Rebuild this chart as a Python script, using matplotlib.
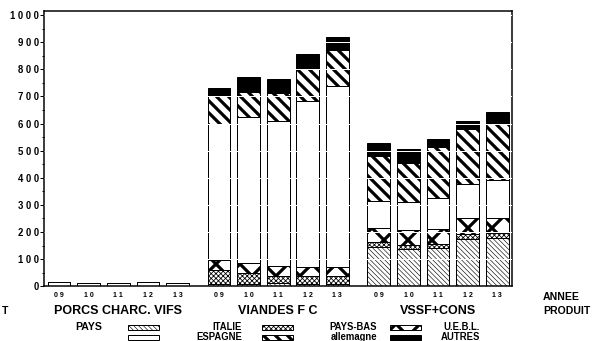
import matplotlib
matplotlib.use('Agg')
import matplotlib.pyplot as plt
from matplotlib.patches import Rectangle
import numpy as np

plt.rcParams['font.family'] = ['Liberation Sans', 'DejaVu Sans']
plt.rcParams['font.weight'] = 'bold'

years = ['09', '10', '11', '12', '13']
groups = ['PORCS CHARC. VIFS', 'VIANDES F C', 'VSSF+CONS']
countries = ['ITALIE', 'PAYS-BAS', 'U.E.B.L.', 'ESPAGNE', 'allemagne', 'AUTRES']

# one value per bar, groups in order PORCS / VIANDES / VSSF, years 09..13
italie = [0, 0, 0, 0, 0, 10, 10, 11, 10, 10, 145, 138, 142, 175, 178]
pays_bas = [0, 0, 0, 0, 0, 50, 39, 27, 27, 27, 18, 15, 15, 19, 18]
uebl = [0, 0, 0, 0, 0, 38, 37, 36, 34, 36, 51, 55, 53, 57, 56]
espagne = [15, 13, 13, 16, 11, 502, 539, 536, 613, 667, 102, 102, 117, 127, 140]
allemagne = [0, 0, 0, 0, 0, 100, 93, 104, 116, 130, 166, 143, 185, 202, 209]
autres = [0, 0, 0, 0, 0, 31, 52, 52, 55, 49, 45, 54, 31, 29, 42]

series = [italie, pays_bas, uebl, espagne, allemagne, autres]
# facecolor, hatch, hatch linewidth
styles = [('white', '\\' * 5, 0.6),
          ('white', 'xxxxx', 0.8),
          ('white', 'x', 3.2),
          ('white', '', 1.0),
          ('white', '\\\\', 3.2),
          ('black', '', 1.0)]


def spaced(s):
    return ' '.join(s)


fig = plt.figure(figsize=(600 / 72, 341 / 72), dpi=72)
ax = fig.add_axes([44 / 600, (341 - 286.3) / 341, 468 / 600, 275.3 / 341])

group_offsets = [0, 5.4, 10.8]
x = np.concatenate([off + np.arange(len(years)) for off in group_offsets])

bottom = np.zeros(len(x))
for vals, (fc, hatch, hlw) in zip(series, styles):
    vals = np.array(vals, dtype=float)
    with plt.rc_context({'hatch.linewidth': hlw}):
        ax.bar(x, vals, 0.77, bottom=bottom, color=fc, edgecolor='black',
               hatch=hatch, linewidth=1.0, zorder=1)
    bottom += vals

ax.set_xlim(-0.51, 15.3)
ax.set_ylim(0, 1015)
ax.set_yticks(np.arange(0, 1001, 100))
ax.set_yticklabels([spaced(str(v)) for v in range(0, 1001, 100)], fontsize=9.5)
ax.set_yticks(np.arange(50, 1000, 100), minor=True)
ax.tick_params(axis='y', which='major', length=4, width=1, pad=1)
ax.tick_params(axis='y', which='minor', length=2, width=1)
ax.set_xticks(x)
ax.set_xticklabels([spaced(y) for y in years] * len(groups), fontsize=7)
ax.tick_params(axis='x', length=0, pad=6)
for sp in ax.spines.values():
    sp.set_linewidth(1.5)

ax.set_axisbelow(False)
ax.yaxis.grid(True, color='white', linewidth=1.0)

for off, name in zip(group_offsets, groups):
    ax.annotate(name, xy=(off + 2, 0), xycoords=('data', 'axes fraction'),
                xytext=(0, -25), textcoords='offset points',
                ha='center', va='center', fontsize=12.5)

fig.text(543 / 600, (341 - 297) / 341, 'ANNEE', fontsize=10.5, va='center')
fig.text(543 / 600, (341 - 311) / 341, 'PRODUIT', fontsize=10.5, va='center')
fig.text(2 / 600, (341 - 311) / 341, 'T', fontsize=10.5, va='center')
fig.text(75 / 600, (341 - 327) / 341, 'PAYS', fontsize=10.5, va='center')

# legend, three columns of two rows
patch_x = [128, 262, 390]
text_right = [242, 377, 480]
row_y = [327, 337]
legend_order = [0, 3, 1, 4, 2, 5]  # ITALIE/ESPAGNE, PAYS-BAS/allemagne, U.E.B.L./AUTRES
for i, k in enumerate(legend_order):
    col, row = i // 2, i % 2
    fc, hatch, hlw = styles[k]
    with plt.rc_context({'hatch.linewidth': hlw}):
        r = Rectangle((patch_x[col] / 600, (341 - row_y[row] - 2.5) / 341),
                      31 / 600, 5 / 341, transform=fig.transFigure,
                      facecolor=fc, edgecolor='black', hatch=hatch, linewidth=1)
        fig.add_artist(r)
    fig.text(text_right[col] / 600, (341 - row_y[row]) / 341, countries[k],
             fontsize=9.5, ha='right', va='center')

fig.savefig('out.png', dpi=72)
